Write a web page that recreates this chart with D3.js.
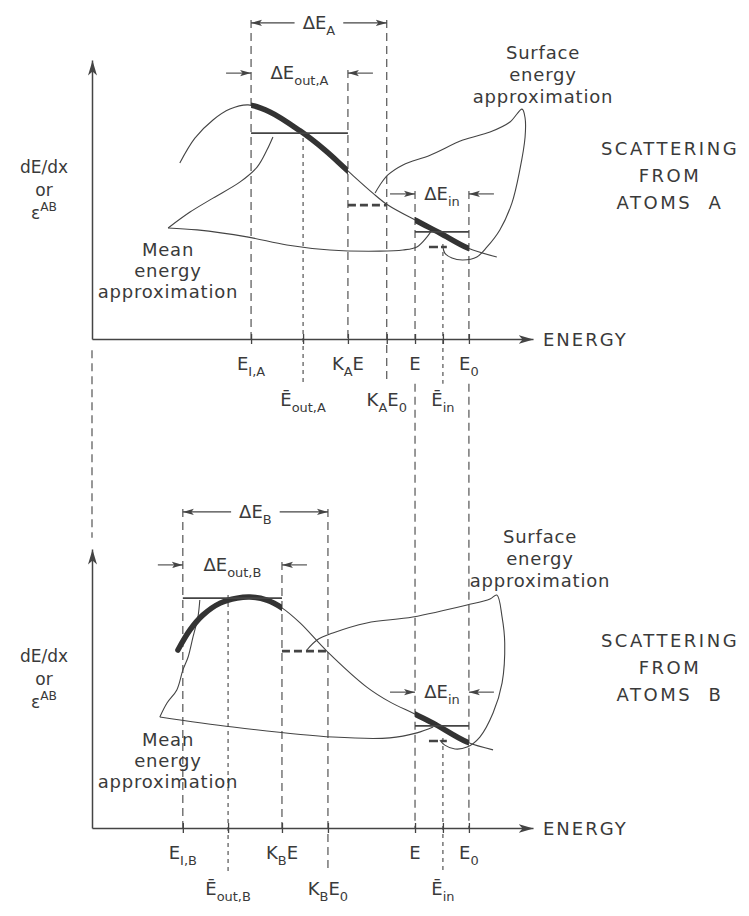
<!DOCTYPE html>
<html>
<head>
<meta charset="utf-8">
<script src="https://cdn.jsdelivr.net/npm/d3@7"></script>
<style>
  body { margin: 0; background: #fff; }
  text { font-family: 'DejaVu Sans', sans-serif; fill: #3a3a3a; }
</style>
</head>
<body>
<script>
/*global d3*/

// Energies marked under each axis, as a fraction of E0
const energiesA = [0.422, 0.560, 0.679, 0.782, 0.857, 0.931, 1.0];
const energiesB = [0.241, 0.361, 0.504, 0.626, 0.857, 0.931, 1.0];

// tick labels: [text, 'sub' | 'sup' | undefined]
const tickLabelsA = [
  [['E'], ['I,A', 'sub']],
  [['Ē'], ['out,A', 'sub']],
  [['K'], ['A', 'sub'], ['E']],
  [['K'], ['A', 'sub'], ['E'], ['0', 'sub']],
  [['E']],
  [['Ē'], ['in', 'sub']],
  [['E'], ['0', 'sub']]
];
const tickLabelsB = [
  [['E'], ['I,B', 'sub']],
  [['Ē'], ['out,B', 'sub']],
  [['K'], ['B', 'sub'], ['E']],
  [['K'], ['B', 'sub'], ['E'], ['0', 'sub']],
  [['E']],
  [['Ē'], ['in', 'sub']],
  [['E'], ['0', 'sub']]
];
const labelRow = [0, 1, 0, 1, 0, 1, 0];

// dE/dx levels (0-100 on each panel): mean out, K*E0 stopping, mean in, surface in
const levelsA = [73.8, 48.0, 38.4, 33.0];
const levelsB = [82.4, 63.4, 36.6, 31.2];

// heights of the dimension brackets: dE, dE_out, dE_in
const bracketsA = [113.3, 95.3, 52.0];
const bracketsB = [113.3, 94.3, 48.7];
const bracketTextA = [[['ΔE'], ['A', 'sub']], [['ΔE'], ['out,A', 'sub']], [['ΔE'], ['in', 'sub']]];
const bracketTextB = [[['ΔE'], ['B', 'sub']], [['ΔE'], ['out,B', 'sub']], [['ΔE'], ['in', 'sub']]];

// stopping curves [energy/E0, dE/dx]
const mainA = [[0.233, 63.1], [0.273, 72.0], [0.321, 78.5], [0.366, 82.4], [0.414, 83.9], [0.472, 81.4],
  [0.552, 74.6], [0.618, 67.7], [0.676, 60.6], [0.745, 52.3], [0.785, 48.0], [0.862, 42.3],
  [0.923, 38.0], [0.997, 32.6], [1.074, 29.4]];
const meanA1 = [[0.480, 72.4], [0.464, 67.7], [0.438, 61.6], [0.393, 56.3], [0.321, 50.5], [0.260, 45.5], [0.202, 39.8]];
const meanA2 = [[0.202, 39.8], [0.279, 39.1], [0.411, 36.6], [0.517, 33.7], [0.631, 31.9], [0.764, 31.5],
  [0.825, 31.9], [0.862, 33.0], [0.889, 36.6], [0.902, 39.1]];
const surfA = [[0.751, 52.3], [0.764, 55.2], [0.785, 58.8], [0.825, 62.4], [0.897, 65.9], [0.984, 71.3],
  [1.056, 74.2], [1.109, 77.8], [1.141, 82.4], [1.149, 79.2], [1.149, 72.4], [1.135, 60.6], [1.114, 48.7],
  [1.082, 39.1], [1.048, 33.0], [1.021, 29.4], [0.984, 28.3], [0.955, 29.0], [0.936, 30.8], [0.931, 33.0]];

const mainB = [[0.228, 63.8], [0.260, 71.0], [0.294, 76.3], [0.340, 80.6], [0.385, 82.4], [0.419, 82.8],
  [0.464, 81.7], [0.504, 78.9], [0.552, 73.5], [0.623, 63.4], [0.729, 50.5], [0.790, 45.2],
  [0.851, 41.2], [0.905, 37.6], [0.995, 30.8], [1.064, 28.0]];
const meanB1 = [[0.286, 81.7], [0.281, 75.6], [0.268, 68.5], [0.255, 61.3], [0.241, 56.6], [0.225, 49.5], [0.199, 44.8], [0.180, 39.8]];
const meanB2 = [[0.180, 39.8], [0.374, 36.2], [0.639, 32.6], [0.790, 32.3], [0.862, 34.1], [0.905, 36.2]];
const surfB = [[0.570, 63.8], [0.597, 67.4], [0.639, 69.9], [0.729, 73.5], [0.851, 75.6], [0.995, 79.9],
  [1.056, 82.1], [1.074, 83.5], [1.088, 75.6], [1.095, 66.3], [1.088, 52.0], [1.064, 41.2], [1.029, 32.6],
  [0.995, 29.0], [0.963, 28.3], [0.936, 29.7], [0.923, 31.5]];

const yLabel = [[['dE/dx']], [['or']], [['ε'], ['AB', 'sup']]];
const meanLabel = ['Mean', 'energy', 'approximation'];
const surfLabel = ['Surface', 'energy', 'approximation'];
const sideA = ['SCATTERING', 'FROM', 'ATOMS  A'];
const sideB = ['SCATTERING', 'FROM', 'ATOMS  B'];

const width = 749, height = 916;
const ink = '#444';

const svg = d3.select('body').append('svg')
  .attr('width', width).attr('height', height);

const defs = svg.append('defs');
defs.append('marker').attr('id', 'arr')
  .attr('viewBox', '0 -5 12 10').attr('refX', 11).attr('refY', 0)
  .attr('markerWidth', 12).attr('markerHeight', 10)
  .attr('markerUnits', 'userSpaceOnUse').attr('orient', 'auto')
  .append('path').attr('d', 'M0,-3.2L11,0L0,3.2L2.5,0Z').attr('fill', ink);
defs.append('marker').attr('id', 'axarr')
  .attr('viewBox', '0 -6 16 12').attr('refX', 15).attr('refY', 0)
  .attr('markerWidth', 16).attr('markerHeight', 12)
  .attr('markerUnits', 'userSpaceOnUse').attr('orient', 'auto')
  .append('path').attr('d', 'M0,-4.5L15,0L0,4.5L4,0Z').attr('fill', ink);

// energy axis (shared by both panels)
const x = d3.scaleLinear().domain([0, 1.17]).range([92, 533]);

const panels = [
  { y: d3.scaleLinear().domain([0, 100]).range([339, 60]), energies: energiesA, labels: tickLabelsA,
    levels: levelsA, brackets: bracketsA, bracketText: bracketTextA, main: mainA, mean: [meanA1, meanA2], surf: surfA,
    thick: [[energiesA[0], energiesA[2]], [energiesA[4], energiesA[6]]], side: sideA,
    meanPos: [168, 256], surfPos: [543, 59], sidePos: [670, 155], yLabPos: [44, 173] },
  { y: d3.scaleLinear().domain([0, 100]).range([828, 549]), energies: energiesB, labels: tickLabelsB,
    levels: levelsB, brackets: bracketsB, bracketText: bracketTextB, main: mainB, mean: [meanB1, meanB2], surf: surfB,
    thick: [[0, energiesB[2]], [energiesB[4], energiesB[6]]], side: sideB,
    meanPos: [168, 746], surfPos: [540, 543], sidePos: [670, 647], yLabPos: [44, 662] }
];

function rich(sel, parts, size) {
  let shift = 0;
  parts.forEach(function(p) {
    const target = p[1] === 'sub' ? size * 0.34 : p[1] === 'sup' ? -size * 0.45 : 0;
    sel.append('tspan')
      .attr('dy', target - shift)
      .attr('font-size', p[1] ? size * 0.72 : size)
      .text(p[0]);
    shift = target;
  });
  return sel;
}

// dashed link between the two panels: y axis, E and E0
const yA = panels[0].y, yB = panels[1].y;
svg.append('line')
  .attr('x1', x(0)).attr('x2', x(0)).attr('y1', yA(-4)).attr('y2', yB(104))
  .attr('stroke', ink).attr('stroke-width', 1.1).attr('stroke-dasharray', '8,5');
[energiesA[4], energiesA[6]].forEach(function(e) {
  svg.append('line')
    .attr('x1', x(e)).attr('x2', x(e)).attr('y1', yA(-16)).attr('y2', yB(0))
    .attr('stroke', ink).attr('stroke-width', 1.1).attr('stroke-dasharray', '8,5');
});

panels.forEach(function(p, pi) {
  const g = svg.append('g');
  const y = p.y;
  const E = p.energies;

  // guides down from the brackets / levels
  const guideTop = [p.brackets[0], p.levels[0], p.brackets[1], p.brackets[0], p.brackets[2], p.levels[3], p.brackets[2]];
  E.forEach(function(e, i) {
    if (pi === 1 && (i === 4 || i === 6)) return; // covered by the link from the top panel
    g.append('line')
      .attr('x1', x(e)).attr('x2', x(e))
      .attr('y1', y(guideTop[i]) - 3)
      .attr('y2', labelRow[i] ? y(-16) : y(0))
      .attr('stroke', ink).attr('stroke-width', 1.1)
      .attr('stroke-dasharray', (i === 1 || i === 5) ? '4,4' : '8,5');
  });

  // axes
  const xAxis = d3.axisBottom(x).tickValues(E).tickSize(5).tickSizeOuter(0).tickFormat('');
  const gx = g.append('g').attr('transform', `translate(0,${y(0)})`).call(xAxis);
  gx.select('.domain').attr('stroke', ink).attr('stroke-width', 1.5).attr('marker-end', 'url(#axarr)');
  gx.selectAll('.tick line').attr('y1', -5).attr('stroke', ink).attr('stroke-width', 1.3);

  const yAxis = d3.axisLeft(y).tickValues([]).tickSizeOuter(0);
  const gy = g.append('g').attr('transform', `translate(${x(0)},0)`).call(yAxis);
  gy.select('.domain').attr('stroke', ink).attr('stroke-width', 1.5).attr('marker-end', 'url(#axarr)');

  g.append('text').attr('x', x(1.17) + 10).attr('y', y(0) + 7)
    .attr('font-size', 18).attr('letter-spacing', 2).text('ENERGY');

  // tick labels
  E.forEach(function(e, i) {
    rich(g.append('text')
      .attr('x', x(e)).attr('y', y(0) + (labelRow[i] ? 67 : 31))
      .attr('text-anchor', 'middle'), p.labels[i], 18);
  });

  // curves
  const line = d3.line().x(d => x(d[0])).y(d => y(d[1])).curve(d3.curveCatmullRom.alpha(0.5));
  [p.main, p.mean[0], p.mean[1], p.surf].forEach(function(c) {
    g.append('path').attr('d', line(c)).attr('fill', 'none').attr('stroke', ink).attr('stroke-width', 1.1);
  });

  const clipId = 'thick' + pi;
  const clip = defs.append('clipPath').attr('id', clipId);
  p.thick.forEach(function(r) {
    clip.append('rect').attr('x', x(r[0])).attr('width', x(r[1]) - x(r[0]))
      .attr('y', 0).attr('height', height);
  });
  g.append('path').attr('d', line(p.main)).attr('fill', 'none')
    .attr('stroke', '#333').attr('stroke-width', 5.5).attr('stroke-linecap', 'round')
    .attr('clip-path', `url(#${clipId})`);

  // levels: mean out (solid), K E0 (dashed), mean in (solid), surface in (dashed)
  g.append('line').attr('x1', x(E[0])).attr('x2', x(E[2])).attr('y1', y(p.levels[0])).attr('y2', y(p.levels[0]))
    .attr('stroke', ink).attr('stroke-width', 1.8);
  g.append('line').attr('x1', x(E[2])).attr('x2', x(E[3])).attr('y1', y(p.levels[1])).attr('y2', y(p.levels[1]))
    .attr('stroke', ink).attr('stroke-width', 2.6).attr('stroke-dasharray', '8,4');
  g.append('line').attr('x1', x(E[4])).attr('x2', x(E[6])).attr('y1', y(p.levels[2])).attr('y2', y(p.levels[2]))
    .attr('stroke', ink).attr('stroke-width', 1.8);
  g.append('line').attr('x1', x((E[4] + E[5]) / 2)).attr('x2', x(E[5] + (E[6] - E[5]) * 0.15))
    .attr('y1', y(p.levels[3])).attr('y2', y(p.levels[3]))
    .attr('stroke', ink).attr('stroke-width', 2.4).attr('stroke-dasharray', '9,3');

  // dimension brackets
  const spans = [[E[0], E[3]], [E[0], E[2]], [E[4], E[6]]];
  spans.forEach(function(s, i) {
    const yy = y(p.brackets[i]);
    const x0 = x(s[0]), x1 = x(s[1]), mid = (x0 + x1) / 2;
    const t = rich(g.append('text').attr('x', mid).attr('y', yy + 6).attr('text-anchor', 'middle'),
      p.bracketText[i], 18);
    const w = t.node().getBBox().width;
    const pairs = i === 0
      ? [[mid - w / 2 - 8, x0], [mid + w / 2 + 8, x1]]
      : [[x0 - 25, x0], [x1 + 25, x1]];
    pairs.forEach(function(a) {
      g.append('line').attr('x1', a[0]).attr('x2', a[1]).attr('y1', yy).attr('y2', yy)
        .attr('stroke', ink).attr('stroke-width', 1.1).attr('marker-end', 'url(#arr)');
    });
  });

  // annotations
  meanLabel.forEach(function(s, i) {
    g.append('text').attr('x', p.meanPos[0]).attr('y', p.meanPos[1] + i * 21)
      .attr('text-anchor', 'middle').attr('font-size', 18).attr('letter-spacing', 0.8).text(s);
  });
  surfLabel.forEach(function(s, i) {
    g.append('text').attr('x', p.surfPos[0]).attr('y', p.surfPos[1] + i * 22)
      .attr('text-anchor', 'middle').attr('font-size', 18).attr('letter-spacing', 0.8).text(s);
  });
  p.side.forEach(function(s, i) {
    g.append('text').attr('x', p.sidePos[0]).attr('y', p.sidePos[1] + i * 27)
      .attr('text-anchor', 'middle').attr('font-size', 18).attr('letter-spacing', 2.5)
      .attr('xml:space', 'preserve').style('white-space', 'pre').text(s);
  });
  yLabel.forEach(function(parts, i) {
    rich(g.append('text').attr('x', p.yLabPos[0]).attr('y', p.yLabPos[1] + i * 23)
      .attr('text-anchor', 'middle'), parts, 17);
  });
});
</script>
</body>
</html>
